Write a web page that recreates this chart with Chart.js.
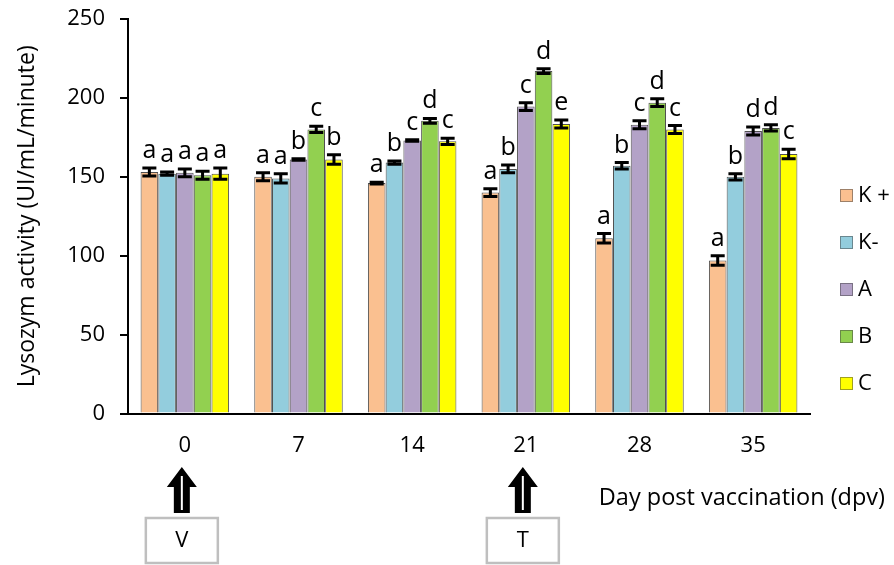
<!DOCTYPE html>
<html>
<head>
<meta charset="utf-8">
<script src="https://cdn.jsdelivr.net/npm/chart.js@4/dist/chart.umd.min.js"></script>
<style>
  html, body { margin: 0; padding: 0; background: #fff; }
</style>
</head>
<body>
<canvas id="lysoChart" width="894" height="565"></canvas>
<script>
var days = ["0", "7", "14", "21", "28", "35"];
var groupNames = ["K +", "K-", "A", "B", "C"];
var colors = ["#FAC090", "#93CDDD", "#B3A2C7", "#92D050", "#FFFF00"];

var kPlus  = [153, 150, 146, 140, 111, 97];
var kMinus = [152, 149, 159, 155, 157, 150];
var grpA   = [152.5, 161, 173, 194.5, 183, 179];
var grpB   = [151, 180, 185.5, 217, 197, 181];
var grpC   = [152, 161, 172.5, 183.5, 180, 164.5];

var errKPlus  = [2.5, 2.5, 0.5, 2.5, 3, 3];
var errKMinus = [1, 3, 1, 2.5, 2, 2];
var errA      = [2.5, 0.5, 0.5, 2.5, 2.5, 2.5];
var errB      = [2.5, 2, 1.5, 1.5, 2.5, 2];
var errC      = [3.5, 3, 2, 2.5, 2.5, 3];

var lettersKPlus  = ["a", "a", "a", "a", "a", "a"];
var lettersKMinus = ["a", "a", "b", "b", "b", "b"];
var lettersA      = ["a", "b", "c", "c", "c", "d"];
var lettersB      = ["a", "c", "d", "d", "d", "d"];
var lettersC      = ["a", "b", "c", "e", "c", "c"];

var yTicks = [0, 50, 100, 150, 200, 250];

var values = [kPlus, kMinus, grpA, grpB, grpC];
var errors = [errKPlus, errKMinus, errA, errB, errC];
var letters = [lettersKPlus, lettersKMinus, lettersA, lettersB, lettersC];

var FONT = "'Open Sans', sans-serif";

var datasets = [];
for (var i = 0; i < groupNames.length; i++) {
    datasets.push({
        label: groupNames[i],
        data: values[i],
        backgroundColor: colors[i],
        borderColor: "#505050",
        borderWidth: 1,
        categoryPercentage: 0.78,
        barPercentage: 0.99
    });
}

// error bars + significance letters, legend, arrows
var extrasPlugin = {
    id: "extras",
    afterDatasetsDraw: function (chart) {
        var ctx = chart.ctx;
        var y = chart.scales.y;
        ctx.save();
        for (var i = 0; i < chart.data.datasets.length; i++) {
            var meta = chart.getDatasetMeta(i);
            for (var j = 0; j < meta.data.length; j++) {
                var bar = meta.data[j];
                var v = values[i][j], e = errors[i][j];
                var top = y.getPixelForValue(v + e);
                var bot = y.getPixelForValue(v - e);
                ctx.strokeStyle = "#000";
                ctx.lineWidth = 3;
                ctx.beginPath();
                ctx.moveTo(bar.x, top); ctx.lineTo(bar.x, bot);
                ctx.moveTo(bar.x - 7, top); ctx.lineTo(bar.x + 7, top);
                ctx.moveTo(bar.x - 7, bot); ctx.lineTo(bar.x + 7, bot);
                ctx.stroke();

                ctx.fillStyle = "#000";
                ctx.font = "25px " + FONT;
                ctx.textAlign = "center";
                ctx.textBaseline = "alphabetic";
                ctx.fillText(letters[i][j], bar.x, top - 10);
            }
        }
        ctx.restore();
    },
    afterDraw: function (chart) {
        var ctx = chart.ctx;
        var x = chart.scales.x;
        ctx.save();

        // legend
        ctx.font = "22px " + FONT;
        ctx.textBaseline = "middle";
        ctx.textAlign = "left";
        for (var i = 0; i < groupNames.length; i++) {
            var ly = 196 + i * 47;
            ctx.fillStyle = colors[i];
            ctx.fillRect(840, ly - 7, 13, 13);
            ctx.strokeStyle = "#404040";
            ctx.lineWidth = 1;
            ctx.setLineDash([1, 1]);
            ctx.strokeRect(840.5, ly - 6.5, 12, 12);
            ctx.setLineDash([]);
            ctx.fillStyle = "#000";
            ctx.fillText(groupNames[i], 858, ly);
        }

        // x axis title
        ctx.font = "23.5px " + FONT;
        ctx.textAlign = "right";
        ctx.fillText("Day post vaccination (dpv)", 885, 498);

        // arrows and boxes at day 0 (V) and day 21 (T)
        var marks = [[0, "V"], [3, "T"]];
        for (var k = 0; k < marks.length; k++) {
            var cx = x.getPixelForValue(marks[k][0]) - 3;
            ctx.fillStyle = "#000";
            ctx.beginPath();
            ctx.moveTo(cx, 467);
            ctx.lineTo(cx + 15, 487);
            ctx.lineTo(cx + 8, 487);
            ctx.lineTo(cx + 8, 513);
            ctx.lineTo(cx - 8, 513);
            ctx.lineTo(cx - 8, 487);
            ctx.lineTo(cx - 15, 487);
            ctx.closePath();
            ctx.fill();
            ctx.strokeStyle = "#fff";
            ctx.lineWidth = 2;
            ctx.beginPath();
            ctx.moveTo(cx, 476);
            ctx.lineTo(cx, 510);
            ctx.stroke();

            ctx.strokeStyle = "#BFBFBF";
            ctx.lineWidth = 2.5;
            ctx.strokeRect(cx - 36, 518, 72, 45);
            ctx.fillStyle = "#000";
            ctx.font = "22px " + FONT;
            ctx.textAlign = "center";
            ctx.fillText(marks[k][1], cx, 541);
        }
        ctx.restore();
    }
};

var chart = new Chart("lysoChart", {
    type: "bar",
    data: {
        labels: days,
        datasets: datasets
    },
    options: {
        responsive: false,
        animation: false,
        layout: { padding: { top: 19, right: 84, left: 0, bottom: 0 } },
        plugins: {
            legend: { display: false },
            tooltip: { enabled: false }
        },
        scales: {
            x: {
                grid: { display: false, drawTicks: false },
                border: { display: true, color: "#000", width: 2 },
                ticks: { color: "#000", font: { family: FONT, size: 22 }, padding: 19 },
                afterFit: function (scale) {
                    scale.height = 151.5;
                    scale.paddingLeft = 0;
                    scale.paddingRight = 0;
                }
            },
            y: {
                min: 0,
                max: 250,
                afterBuildTicks: function (scale) {
                    scale.ticks = yTicks.map(function (v) { return { value: v }; });
                },
                grid: {
                    display: true,
                    drawOnChartArea: false,
                    drawTicks: true,
                    tickLength: 8,
                    color: "#000",
                    lineWidth: 2
                },
                border: { display: true, color: "#000", width: 2 },
                ticks: { color: "#000", font: { family: FONT, size: 22 }, padding: 15 },
                title: {
                    display: true,
                    text: "Lysozym activity (UI/mL/minute)",
                    color: "#000",
                    font: { family: FONT, size: 23 },
                    padding: { top: 14, bottom: 0 }
                },
                afterFit: function (scale) {
                    scale.width = 128;
                    scale.paddingTop = 0;
                    scale.paddingBottom = 0;
                }
            }
        }
    },
    plugins: [extrasPlugin]
});
</script>
</body>
</html>
